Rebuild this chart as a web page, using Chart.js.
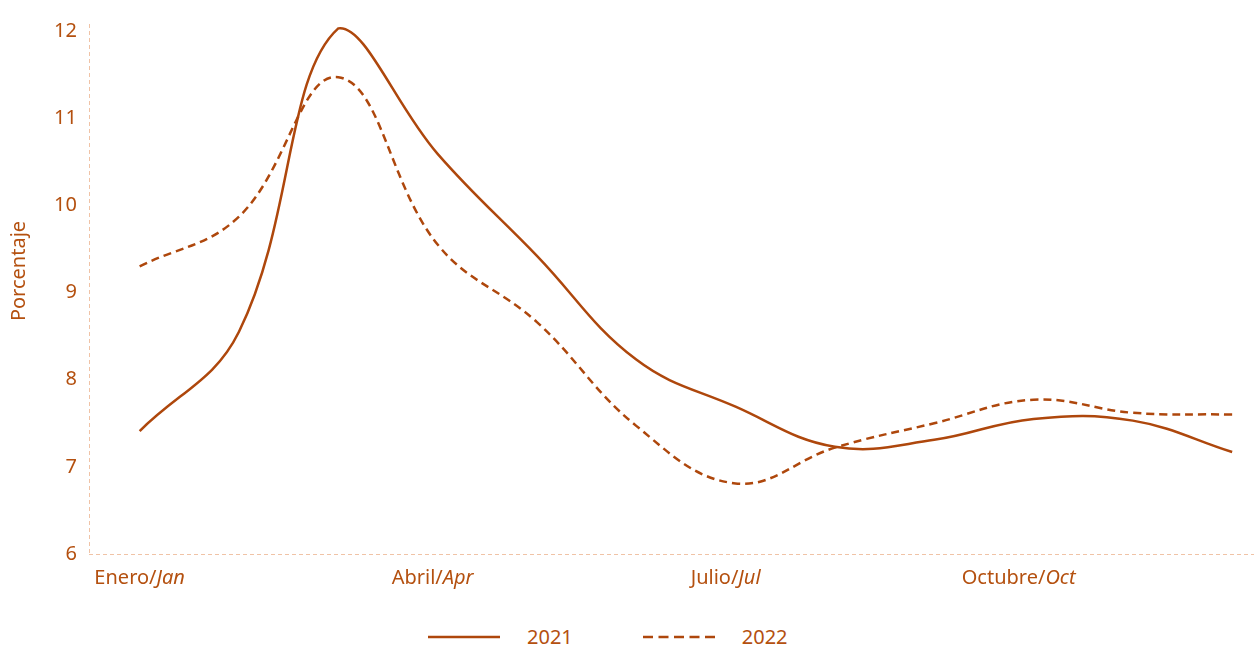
<!DOCTYPE html>
<html>
<head>
<meta charset="utf-8">
<script src="https://cdn.jsdelivr.net/npm/chart.js@4.4.0/dist/chart.umd.min.js"></script>
<style>
  body { margin: 0; background: #fff; font-family: "Noto Sans", sans-serif; }
  #wrap { position: relative; width: 1254px; height: 600px; }
  #legend { position: absolute; left: 428px; top: 623px; display: flex; align-items: center;
            color: #b4500f; font-size: 20px; }
  #legend .item { display: flex; align-items: center; margin-right: 70px; }
  #legend span { margin-left: 27px; }
</style>
</head>
<body>
<div id="wrap"><canvas id="chart"></canvas></div>
<div id="legend"></div>
<script>
const months = [0, 1, 2, 3, 4, 5, 6, 7, 8, 9, 10, 11]; // Enero..Diciembre
const values2021 = [7.41, 8.55, 12.03, 10.59, 9.42, 8.23, 7.69, 7.23, 7.31, 7.55, 7.53, 7.17];
const values2022 = [9.30, 9.87, 11.47, 9.55, 8.66, 7.47, 6.81, 7.22, 7.50, 7.77, 7.62, 7.60];
const xTickLabels = ['Enero/Jan', 'Abril/Apr', 'Julio/Jul', 'Octubre/Oct'];
const xTickPos = [0, 2.95, 5.9, 8.85];
const yTicks = [6, 7, 8, 9, 10, 11, 12];

const textColor = '#b4500f';
const lineColor = '#ae470c';
const axisColor = '#f0c3a6';
const fontFamily = '"Noto Sans", sans-serif';
const fontSize = 20;

// dashed axis lines, x labels with the english part in italics, rotated y title
const labelsPlugin = {
  id: 'labels',
  beforeDatasetsDraw(chart) {
    const ctx = chart.ctx;
    const a = chart.chartArea;
    ctx.save();
    ctx.strokeStyle = axisColor;
    ctx.lineWidth = 1;
    ctx.setLineDash([4, 3]);
    ctx.beginPath();
    ctx.moveTo(a.left + 0.5, a.top);
    ctx.lineTo(a.left + 0.5, a.bottom);
    ctx.moveTo(a.left, a.bottom + 0.5);
    ctx.lineTo(a.right, a.bottom + 0.5);
    ctx.stroke();
    ctx.restore();
  },
  afterDraw(chart) {
    const ctx = chart.ctx;
    const xs = chart.scales.x;
    const normal = fontSize + 'px ' + fontFamily;
    const italic = 'italic ' + fontSize + 'px ' + fontFamily;
    ctx.save();
    ctx.fillStyle = textColor;
    ctx.textBaseline = 'middle';
    ctx.textAlign = 'left';
    xTickLabels.forEach((lab, i) => {
      const parts = lab.split('/');
      const first = parts[0] + '/';
      ctx.font = normal;
      const w1 = ctx.measureText(first).width;
      ctx.font = italic;
      const w2 = ctx.measureText(parts[1]).width;
      const x0 = xs.getPixelForValue(xTickPos[i]) - (w1 + w2) / 2;
      const y = chart.chartArea.bottom + 24;
      ctx.font = normal;
      ctx.fillText(first, x0, y);
      ctx.font = italic;
      ctx.fillText(parts[1], x0 + w1, y);
    });
    ctx.translate(19, 271);
    ctx.rotate(-Math.PI / 2);
    ctx.textAlign = 'center';
    ctx.font = normal;
    ctx.fillText('Porcentaje', 0, 0);
    ctx.restore();
  }
};

const ctx = document.getElementById('chart').getContext('2d');
new Chart(ctx, {
  type: 'line',
  data: {
    datasets: [{
      label: '2021',
      data: months.map((m, i) => ({ x: m, y: values2021[i] })),
      borderColor: lineColor,
      borderWidth: 2.5,
      pointRadius: 0,
      tension: 0.4,
      clip: false
    }, {
      label: '2022',
      data: months.map((m, i) => ({ x: m, y: values2022[i] })),
      borderColor: lineColor,
      borderWidth: 2.5,
      borderDash: [8, 5],
      pointRadius: 0,
      tension: 0.4,
      clip: false
    }]
  },
  options: {
    responsive: true,
    maintainAspectRatio: false,
    animation: false,
    layout: { padding: { top: 19, right: 0, left: 0, bottom: 0 } },
    plugins: { legend: { display: false }, tooltip: { enabled: false } },
    scales: {
      x: {
        type: 'linear',
        min: -0.51,
        max: 11.22,
        grid: { display: false },
        border: { display: false },
        ticks: { display: false },
        afterFit(scale) { scale.height = 46; }
      },
      y: {
        min: 6,
        max: 12.08,
        grid: { display: false, drawTicks: false },
        border: { display: false },
        afterBuildTicks(scale) { scale.ticks = yTicks.map(v => ({ value: v })); },
        ticks: { color: textColor, padding: 12, font: { family: fontFamily, size: fontSize } },
        afterFit(scale) { scale.width = 89; }
      }
    }
  },
  plugins: [labelsPlugin]
});

// legend as html below the canvas
const legendItems = [{ label: '2021', dash: '' }, { label: '2022', dash: '10 5.5' }];
document.getElementById('legend').innerHTML = legendItems.map(it =>
  '<div class="item"><svg width="72" height="4"><line x1="0" y1="2" x2="72" y2="2" stroke="' + lineColor +
  '" stroke-width="2.5"' + (it.dash ? ' stroke-dasharray="' + it.dash + '"' : '') + '/></svg><span>' +
  it.label + '</span></div>').join('');
</script>
</body>
</html>
